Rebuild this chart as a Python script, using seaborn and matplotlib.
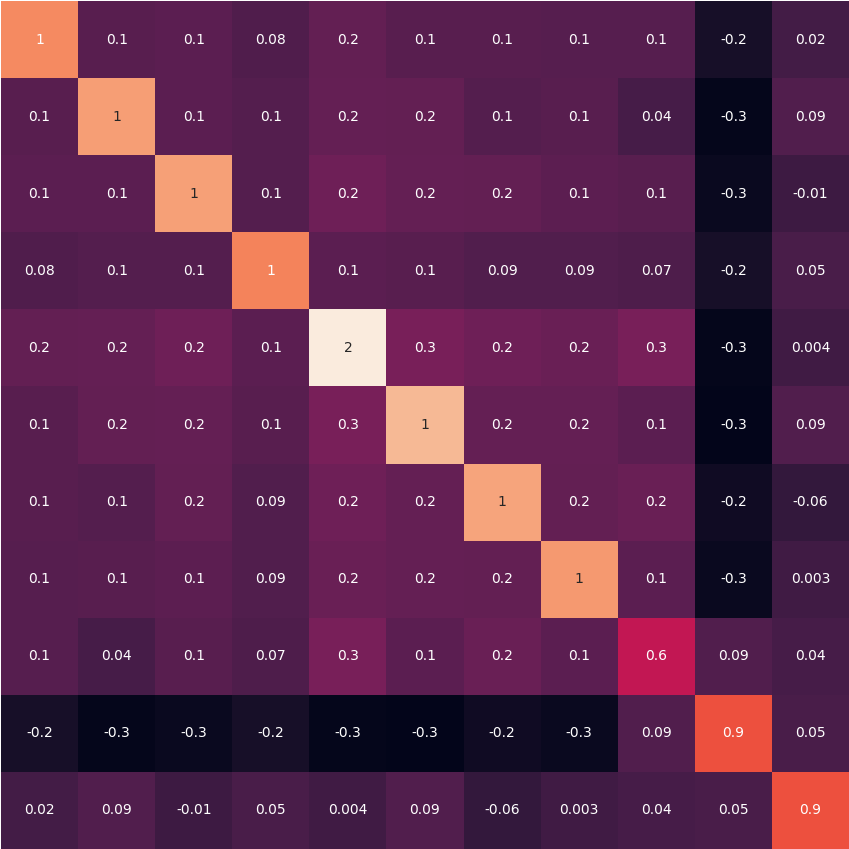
import numpy as np
import matplotlib as mpl
mpl.use('Agg')
import matplotlib.pyplot as plt
import seaborn as sns

# covariance-like matrix, rows (symmetric)
row0 = [1.13, 0.12, 0.13, 0.08, 0.17, 0.12, 0.12, 0.11, 0.11, -0.2, 0.02]
row1 = [0.12, 1.22, 0.13, 0.1, 0.18, 0.17, 0.1, 0.12, 0.04, -0.3, 0.09]
row2 = [0.13, 0.13, 1.23, 0.1, 0.22, 0.18, 0.17, 0.14, 0.12, -0.27, -0.01]
row3 = [0.08, 0.1, 0.1, 1.1, 0.13, 0.12, 0.09, 0.09, 0.07, -0.2, 0.05]
row4 = [0.17, 0.18, 0.22, 0.13, 1.6, 0.27, 0.22, 0.2, 0.27, -0.3, 0.004]
row5 = [0.12, 0.17, 0.18, 0.12, 0.27, 1.35, 0.18, 0.18, 0.13, -0.32, 0.09]
row6 = [0.12, 0.1, 0.17, 0.09, 0.22, 0.18, 1.25, 0.17, 0.2, -0.24, -0.06]
row7 = [0.11, 0.12, 0.14, 0.09, 0.2, 0.18, 0.17, 1.2, 0.13, -0.27, 0.003]
row8 = [0.11, 0.04, 0.12, 0.07, 0.27, 0.13, 0.2, 0.13, 0.6, 0.09, 0.04]
row9 = [-0.2, -0.3, -0.27, -0.2, -0.3, -0.32, -0.24, -0.27, 0.09, 0.9, 0.05]
row10 = [0.02, 0.09, -0.01, 0.05, 0.004, 0.09, -0.06, 0.003, 0.04, 0.05, 0.9]

cov = np.array([row0, row1, row2, row3, row4, row5, row6, row7, row8, row9, row10])

fig = plt.figure(figsize=(8.49, 8.49), dpi=100)
# leave a 1px white strip on the top and left edges like the original
ax = fig.add_axes([1/849, 0, 848/849, 848/849])
sns.heatmap(cov, annot=True, fmt='.1g', cmap='rocket', cbar=False,
            xticklabels=False, yticklabels=False, ax=ax)
ax.axis('off')
fig.savefig('out.png', dpi=100)
